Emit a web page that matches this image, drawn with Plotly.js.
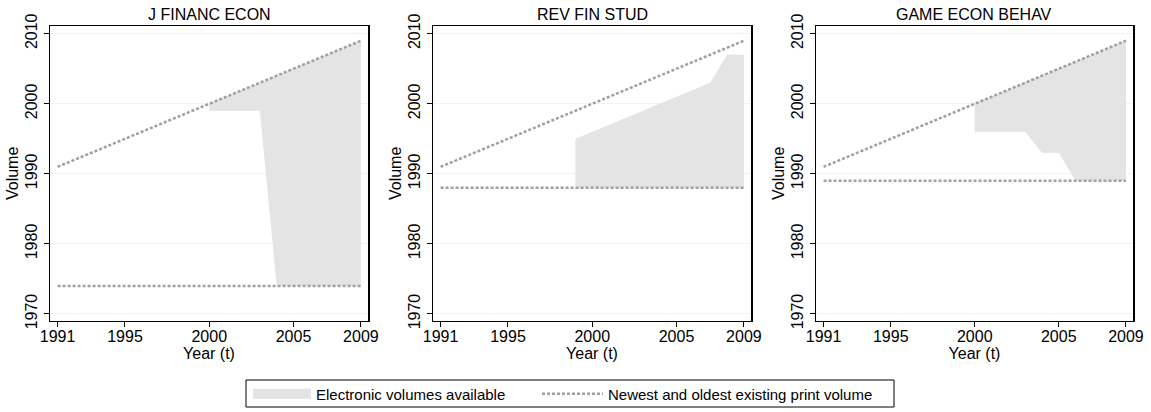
<!DOCTYPE html>
<html>
<head>
<meta charset="utf-8">
<script src="https://cdn.plot.ly/plotly-3.0.1.min.js"></script>
<style>html,body{margin:0;padding:0;background:#fff;}#chart{width:1151px;height:412px;}</style>
</head>
<body>
<div id="chart"></div>
<script>
// ---- data ----
const journals = ['J FINANC ECON', 'REV FIN STUD', 'GAME ECON BEHAV'];
const printYears = [1991, 2009];
const newestPrint = [1991, 2009];
const oldestPrint = [1974, 1988, 1989];

const eYears1 = [2000, 2001, 2002, 2003, 2004, 2005, 2006, 2007, 2008, 2009];
const eTop1 = [2000, 2001, 2002, 2003, 2004, 2005, 2006, 2007, 2008, 2009];
const eBottom1 = [1999, 1999, 1999, 1999, 1974, 1974, 1974, 1974, 1974, 1974];

const eYears2 = [1999, 2000, 2001, 2002, 2003, 2004, 2005, 2006, 2007, 2008, 2009];
const eTop2 = [1995, 1996, 1997, 1998, 1999, 2000, 2001, 2002, 2003, 2007, 2007];
const eBottom2 = [1988, 1988, 1988, 1988, 1988, 1988, 1988, 1988, 1988, 1988, 1988];

const eYears3 = [2000, 2001, 2002, 2003, 2004, 2005, 2006, 2007, 2008, 2009];
const eTop3 = [2000, 2001, 2002, 2003, 2004, 2005, 2006, 2007, 2008, 2009];
const eBottom3 = [1996, 1996, 1996, 1996, 1993, 1993, 1989, 1989, 1989, 1989];

const xTicks = [1991, 1995, 2000, 2005, 2009];
const yTicks = [1970, 1980, 1990, 2000, 2010];

const legendNames = ['Electronic volumes available', 'Newest and oldest existing print volume'];

const eYears = [eYears1, eYears2, eYears3];
const eTops = [eTop1, eTop2, eTop3];
const eBottoms = [eBottom1, eBottom2, eBottom3];

// ---- styles ----
const FONT = 'Liberation Sans, Arial, Helvetica, sans-serif';
const FILL = '#e4e4e4';
const DOT = '#a0a0a0';
const W = 1151, H = 412;
const xDomains = [[50 / W, 368 / W], [433 / W, 751 / W], [816 / W, 1133 / W]];
const yDomain = [(H - 320.7) / H, (H - 26) / H];
const legendY = (H - 394) / H;

const traces = [];
const layout = {
  width: W, height: H,
  margin: {l: 0, r: 0, t: 0, b: 0},
  paper_bgcolor: '#ffffff', plot_bgcolor: '#ffffff',
  font: {family: FONT, size: 16, color: '#000'},
  showlegend: true,
  legend: {
    orientation: 'h', x: 248 / W, xanchor: 'left', y: legendY, yanchor: 'middle',
    borderwidth: 0, bgcolor: 'rgba(0,0,0,0)', font: {size: 15, family: FONT},
    itemwidth: 58
  },
  legend2: {
    orientation: 'h', x: 537 / W, xanchor: 'left', y: legendY, yanchor: 'middle',
    borderwidth: 0, bgcolor: 'rgba(0,0,0,0)', font: {size: 15, family: FONT},
    itemwidth: 61
  },
  shapes: [{
    type: 'rect', xref: 'paper', yref: 'paper', layer: 'below',
    x0: 246 / W, x1: 894 / W, y0: (H - 407) / H, y1: (H - 380) / H,
    line: {color: '#000', width: 1}, fillcolor: 'rgba(0,0,0,0)'
  }],
  annotations: []
};

for (let i = 0; i < 3; i++) {
  const sfx = i === 0 ? '' : String(i + 1);
  const xa = 'x' + sfx, ya = 'y' + sfx;
  traces.push({
    type: 'scatter', mode: 'lines', x: eYears[i], y: eBottoms[i], xaxis: xa, yaxis: ya,
    line: {width: 0, color: FILL}, showlegend: false, hoverinfo: 'skip', legendgroup: 'e'
  });
  traces.push({
    type: 'scatter', mode: 'lines', x: eYears[i], y: eTops[i], xaxis: xa, yaxis: ya,
    fill: 'tonexty', fillcolor: FILL, line: {width: 0, color: FILL},
    name: legendNames[0], showlegend: false, legendgroup: 'e'
  });
  traces.push({
    type: 'scatter', mode: 'lines', x: printYears, y: newestPrint, xaxis: xa, yaxis: ya,
    line: {width: 2.5, color: DOT, dash: '3px,2px'},
    name: legendNames[1], showlegend: i === 0, legendgroup: 'p', legend: 'legend2'
  });
  traces.push({
    type: 'scatter', mode: 'lines', x: printYears, y: [oldestPrint[i], oldestPrint[i]], xaxis: xa, yaxis: ya,
    line: {width: 2.5, color: DOT, dash: '3px,2px'}, showlegend: false, legendgroup: 'p', legend: 'legend2'
  });

  layout['xaxis' + sfx] = {
    domain: xDomains[i], anchor: ya, range: [1990.55, 2009.42],
    tickvals: xTicks, ticks: 'outside', ticklen: 5, tickcolor: '#000',
    showline: true, linecolor: '#000', linewidth: 1.5, mirror: true,
    showgrid: false, zeroline: false, automargin: false,
    tickfont: {size: 16, family: FONT}, ticklabelstandoff: -4,
    title: {text: 'Year (t)', font: {size: 16, family: FONT}, standoff: 0}
  };
  layout['yaxis' + sfx] = {
    domain: yDomain, anchor: xa, range: [1969.04, 2011.1],
    tickvals: yTicks, ticks: 'outside', ticklen: 5, tickcolor: '#000', tickangle: -90,
    showline: true, linecolor: '#000', linewidth: 1.5, mirror: true,
    showgrid: true, gridcolor: '#f2f2f2', gridwidth: 1, zeroline: false, automargin: false,
    tickfont: {size: 16, family: FONT},
    title: {text: 'Volume', font: {size: 16, family: FONT}, standoff: 0}
  };
  layout.annotations.push({
    xref: 'paper', yref: 'paper', x: (xDomains[i][0] + xDomains[i][1]) / 2, y: (H - 15) / H,
    xanchor: 'center', yanchor: 'middle', showarrow: false,
    text: journals[i], font: {size: 16, family: FONT, color: '#000'}
  });
}

// legend key for the shaded area (a thick swatch line; carries no data)
traces.push({
  type: 'scatter', mode: 'lines', x: [null], y: [null], xaxis: 'x', yaxis: 'y',
  line: {width: 17, color: FILL}, name: legendNames[0], showlegend: true,
  legendgroup: 'e', legend: 'legend', hoverinfo: 'skip'
});

Plotly.newPlot('chart', traces, layout, {displayModeBar: false, staticPlot: true});
</script>
</body>
</html>
